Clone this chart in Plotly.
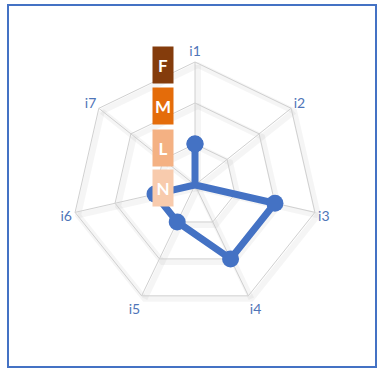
import plotly.graph_objects as go

categories = ["i1", "i2", "i3", "i4", "i5", "i6", "i7"]
values = [1, 0, 2, 2, 1, 1, 0]
box_labels = ["F", "M", "L", "N"]
box_colors = ["#843C0C", "#E46C0A", "#F4B183", "#F8CBAD"]

W, H = 377, 369
cx, cy, R = 195, 185, 123

def px_x(x):
    return x / W

def px_y(y):
    return (H - y) / H

main_dom = dict(x=[px_x(cx - R), px_x(cx + R)], y=[px_y(cy + R), px_y(cy - R)])
sh = 3
shadow_dom = dict(x=[px_x(cx - R + sh), px_x(cx + R + sh)], y=[px_y(cy + R + sh), px_y(cy - R + sh)])

fig = go.Figure()

# faint shadow copy of the grid
fig.add_trace(go.Scatterpolar(r=[0] * len(categories), theta=categories, mode="markers",
                              marker=dict(size=0.1, color="rgba(0,0,0,0)"), subplot="polar",
                              showlegend=False, hoverinfo="skip"))

fig.add_trace(go.Scatterpolar(
    r=values + values[:1], theta=categories + categories[:1],
    mode="lines+markers", subplot="polar2",
    line=dict(color="#4472C4", width=7),
    marker=dict(color="#4472C4", size=17),
    showlegend=False,
))

common_radial = dict(range=[0, 3], dtick=1, showticklabels=False, ticks="",
                     showline=False)
common_ang = dict(direction="clockwise", rotation=90, ticks="")

fig.update_layout(
    width=W, height=H,
    margin=dict(l=0, r=0, t=0, b=0),
    paper_bgcolor="white",
    font=dict(family="Lato, Liberation Sans, sans-serif"),
    polar=dict(
        domain=shadow_dom, gridshape="linear", bgcolor="rgba(0,0,0,0)",
        radialaxis=dict(common_radial, gridcolor="rgba(0,0,0,0.04)", gridwidth=6),
        angularaxis=dict(common_ang, showticklabels=False, gridcolor="rgba(0,0,0,0.04)",
                         gridwidth=6, showline=True, linecolor="rgba(0,0,0,0.04)", linewidth=6),
    ),
    polar2=dict(
        domain=main_dom, gridshape="linear", bgcolor="rgba(0,0,0,0)",
        radialaxis=dict(common_radial, gridcolor="#D0D0D0", gridwidth=1),
        angularaxis=dict(common_ang, gridcolor="#D0D0D0", gridwidth=1,
                         showline=True, linecolor="#D0D0D0", linewidth=1,
                         tickfont=dict(color="#4F75B8", size=14)),
    ),
)

# F / M / L / N label boxes
box_tops = [47, 88, 130, 170]
for lab, col, top in zip(box_labels, box_colors, box_tops):
    fig.add_annotation(
        xref="paper", yref="paper", x=px_x(163), y=px_y(top + 18),
        xanchor="center", yanchor="middle",
        text="<b>" + lab + "</b>", showarrow=False,
        width=20, height=36, borderpad=0, bgcolor=col,
        font=dict(color="white", size=17, family="Lato, sans-serif"),
    )

# chart border
fig.add_shape(type="rect", xref="paper", yref="paper",
              x0=px_x(8), x1=px_x(376), y0=px_y(367), y1=px_y(5),
              line=dict(color="#4472C4", width=2))

fig.write_html("out.html", config={"displayModeBar": False},
               post_script="document.body.style.margin='0';")
